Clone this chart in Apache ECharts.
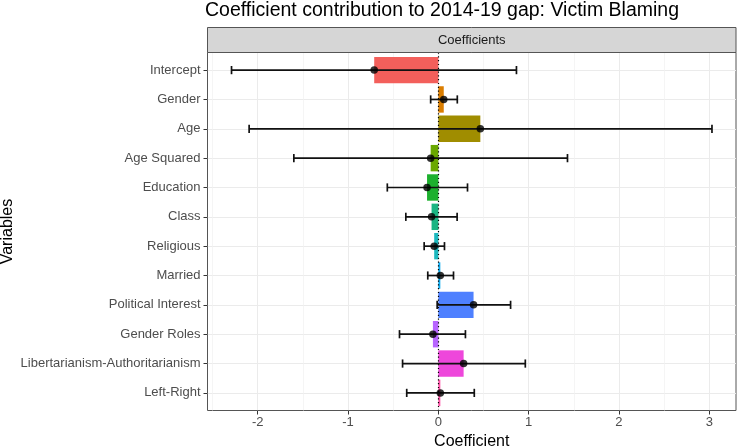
<!DOCTYPE html>
<html>
<head>
<meta charset="utf-8">
<script src="https://cdn.jsdelivr.net/npm/echarts@6/dist/echarts.min.js"></script>
<style>html,body{margin:0;padding:0;background:#fff}#c{width:738px;height:448px}</style>
</head>
<body>
<div id="c"></div>
<script>
const categories = ['Intercept','Gender','Age','Age Squared','Education','Class','Religious','Married','Political Interest','Gender Roles','Libertarianism-Authoritarianism','Left-Right'];
const coefs = [-0.71, 0.06, 0.465, -0.085, -0.125, -0.075, -0.046, 0.022, 0.39, -0.06, 0.28, 0.022];
const lower = [-2.29, -0.085, -2.095, -1.60, -0.565, -0.36, -0.157, -0.117, -0.013, -0.43, -0.396, -0.35];
const upper = [0.865, 0.21, 3.03, 1.43, 0.323, 0.208, 0.068, 0.168, 0.80, 0.30, 0.963, 0.398];
const xTicks = [-2, -1, 0, 1, 2, 3];
const xMinorTicks = [-2.5, -1.5, -0.5, 0.5, 1.5, 2.5];
const barColors = ['#F35F5B','#DB7E00','#A08D00','#6AA800','#1DB02E','#1BB583','#1CB8BE','#0BAAEE','#4E80FF','#B866FF','#EE47DB','#FF4FA6'];

const FONT = '"Liberation Sans", Arial, Helvetica, sans-serif';
const idx = categories.map((c, i) => i);
const lo = Math.min(...lower), hi = Math.max(...upper);
const pad = 0.05 * (hi - lo);

const chart = echarts.init(document.getElementById('c'), null, {renderer: 'canvas'});
const option = {
  animation: false,
  textStyle: {fontFamily: FONT},
  title: {
    text: 'Coefficient contribution to 2014-19 gap: Victim Blaming',
    left: 205, top: 1, padding: 0,
    textStyle: {fontFamily: FONT, fontSize: 19.5, fontWeight: 'normal', color: '#000'}
  },
  grid: {
    left: 207.5, right: 2, top: 52.5, bottom: 37.5,
    outerBoundsMode: 'none', containLabel: false,
    show: true, borderColor: '#555', borderWidth: 1, backgroundColor: '#fff', z: 0
  },
  graphic: [
    {type: 'rect', shape: {x: 207.5, y: 27.5, width: 528.5, height: 25}, style: {fill: '#d6d6d6', stroke: '#555', lineWidth: 1}, z: 10},
    {type: 'text', x: 471.75, y: 40.5, style: {text: 'Coefficients', fill: '#1a1a1a', font: '13px ' + FONT, textAlign: 'center', textVerticalAlign: 'middle'}, z: 11}
  ],
  xAxis: {
    type: 'value',
    min: lo - pad, max: hi + pad,
    name: 'Coefficient', nameLocation: 'middle', nameGap: 23, nameMoveOverlap: false,
    nameTextStyle: {fontFamily: FONT, fontSize: 16, color: '#000'},
    axisLine: {show: false, onZero: false},
    axisTick: {show: true, length: 4, lineStyle: {color: '#333'}, customValues: xTicks},
    axisLabel: {customValues: xTicks, color: '#4d4d4d', fontSize: 13, margin: 5, fontFamily: FONT},
    splitLine: {show: true, lineStyle: {color: '#ebebeb', width: 1}}
  },
  yAxis: {
    type: 'value',
    min: -0.6, max: categories.length - 0.4,
    inverse: true,
    name: 'Variables', nameLocation: 'middle', nameGap: 192, nameRotate: 90, nameMoveOverlap: false,
    nameTextStyle: {fontFamily: FONT, fontSize: 16, color: '#000'},
    axisLine: {show: false, onZero: false},
    axisTick: {show: true, length: 4, lineStyle: {color: '#333'}, customValues: idx},
    axisLabel: {customValues: idx, color: '#4d4d4d', fontSize: 13, margin: 7, fontFamily: FONT,
      formatter: v => categories[Math.round(v)] || ''},
    splitLine: {show: true, lineStyle: {color: '#ebebeb', width: 1}}
  },
  series: [
    {
      type: 'line', data: [], silent: true, z: 1,
      markLine: {
        silent: true, symbol: 'none', label: {show: false}, z: 1,
        lineStyle: {color: '#f0f0f0', width: 0.7, type: 'solid'},
        data: xMinorTicks.map(v => ({xAxis: v}))
      }
    },
    {
      type: 'custom', z: 2,
      renderItem: (params, api) => {
        const i = api.value(0), v = api.value(1);
        const p0 = api.coord([0, i]);
        const p1 = api.coord([v, i]);
        const h = api.size([0, 0.9])[1];
        return {type: 'rect', shape: {x: Math.min(p0[0], p1[0]), y: p0[1] - h / 2, width: Math.abs(p1[0] - p0[0]), height: h},
          style: {fill: barColors[i]}};
      },
      encode: {x: 1, y: 0},
      data: idx.map(i => [i, coefs[i]])
    },
    {
      type: 'line', data: [], silent: true, z: 3,
      markLine: {
        silent: true, symbol: 'none', label: {show: false}, z: 3,
        lineStyle: {color: '#000', width: 1.2, type: [1.2, 2.6]},
        data: [{xAxis: 0}]
      }
    },
    {
      type: 'custom', z: 4,
      renderItem: (params, api) => {
        const i = api.value(0);
        const a = api.coord([api.value(1), i]);
        const b = api.coord([api.value(2), i]);
        const c = api.size([0, 0.28])[1] / 2;
        const st = {stroke: '#111', lineWidth: 1.7};
        return {type: 'group', children: [
          {type: 'line', shape: {x1: a[0], y1: a[1], x2: b[0], y2: b[1]}, style: st},
          {type: 'line', shape: {x1: a[0], y1: a[1] - c, x2: a[0], y2: a[1] + c}, style: st},
          {type: 'line', shape: {x1: b[0], y1: b[1] - c, x2: b[0], y2: b[1] + c}, style: st}
        ]};
      },
      encode: {x: [1, 2], y: 0},
      data: idx.map(i => [i, lower[i], upper[i]])
    },
    {
      type: 'scatter', z: 5, symbol: 'circle', symbolSize: 7.5,
      itemStyle: {color: '#000'},
      data: idx.map(i => [coefs[i], i])
    }
  ]
};
chart.setOption(option);
</script>
</body>
</html>
